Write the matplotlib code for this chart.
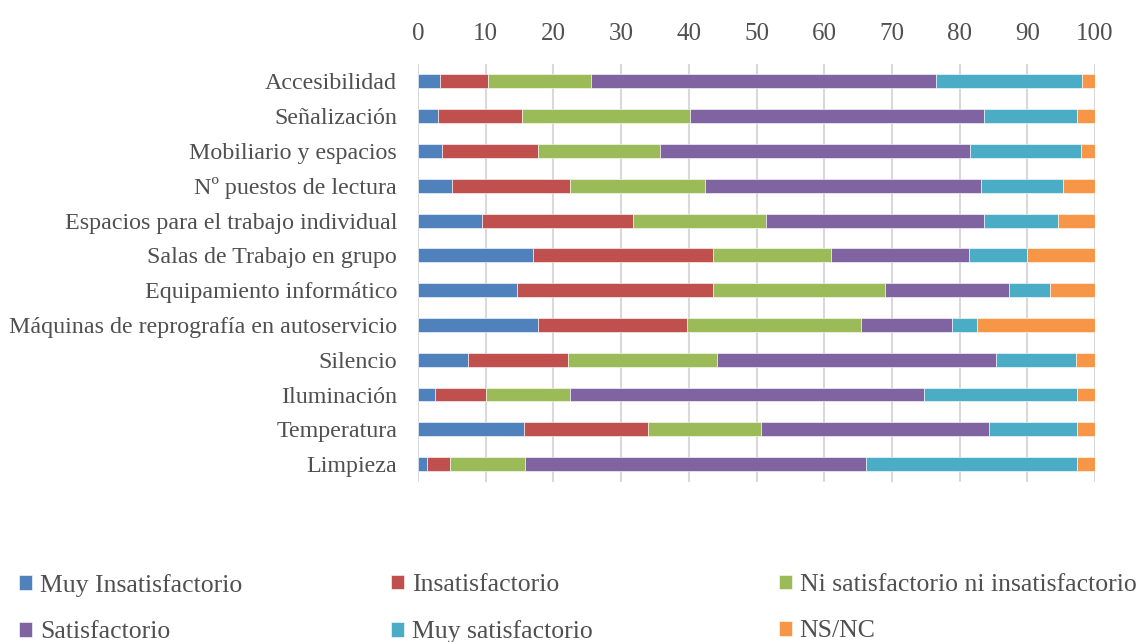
import matplotlib.pyplot as plt
import numpy as np

# categories (top to bottom)
categorias = ["Accesibilidad", "Señalización", "Mobiliario y espacios", "Nº puestos de lectura",
              "Espacios para el trabajo individual", "Salas de Trabajo en grupo",
              "Equipamiento informático", "Máquinas de reprografía en autoservicio",
              "Silencio", "Iluminación", "Temperatura", "Limpieza"]

series = ["Muy Insatisfactorio", "Insatisfactorio", "Ni satisfactorio ni insatisfactorio",
          "Satisfactorio", "Muy satisfactorio", "NS/NC"]

# percentage values per series
muy_insatisfactorio = [3.3, 3.0, 3.5, 5.0, 9.4, 17.0, 14.6, 17.7, 7.4, 2.5, 15.6, 1.4]
insatisfactorio = [7.1, 12.3, 14.2, 17.4, 22.3, 26.5, 28.9, 22.1, 14.7, 7.5, 18.3, 3.3]
ni_ni = [15.2, 24.9, 18.0, 20.0, 19.7, 17.5, 25.5, 25.6, 22.0, 12.4, 16.8, 11.1]
satisfactorio = [50.9, 43.4, 45.9, 40.7, 32.2, 20.4, 18.3, 13.4, 41.2, 52.3, 33.7, 50.4]
muy_satisfactorio = [21.6, 13.8, 16.3, 12.1, 10.9, 8.6, 6.0, 3.8, 11.9, 22.7, 13.0, 31.1]
ns_nc = [1.9, 2.6, 2.1, 4.8, 5.5, 10.0, 6.7, 17.4, 2.8, 2.6, 2.6, 2.7]

colores = ["#4F81BD", "#C0504D", "#9BBB59", "#8064A2", "#4BACC6", "#F79646"]
texto = "#505050"

plt.rcParams['font.family'] = ['Liberation Serif', 'DejaVu Serif']

fig = plt.figure(figsize=(11.44, 6.42), dpi=100)
ax = fig.add_axes([0.3654, 0.25, 0.5918, 0.6503])

datos = [muy_insatisfactorio, insatisfactorio, ni_ni, satisfactorio, muy_satisfactorio, ns_nc]
y = np.arange(len(categorias))
izq = np.zeros(len(categorias))
barras = []
for vals, col, nombre in zip(datos, colores, series):
    b = ax.barh(y, vals, left=izq, height=0.4, color=col, edgecolor="white", linewidth=0.4, label=nombre)
    barras.append(b)
    izq += np.array(vals)

ax.set_xlim(0, 100)
ax.set_ylim(len(categorias) - 0.5, -0.5)
ax.set_yticks(y)
ax.set_yticklabels(categorias, fontsize=17.3, color=texto)
ax.set_xticks(range(0, 101, 10))
ax.xaxis.tick_top()
ax.tick_params(axis="x", labelsize=18, colors=texto, length=0, pad=14)
ax.tick_params(axis="y", length=0, pad=15)
ax.grid(axis="x", color="#D9D9D9", linewidth=1.5)
ax.set_axisbelow(True)
for s in ax.spines.values():
    s.set_visible(False)

# legend as three columns
posiciones = [0.008, 0.333, 0.672]
for i, x in enumerate(posiciones):
    hs = [barras[i], barras[i + 3]]
    ls = [series[i], series[i + 3]]
    leg = fig.legend(hs, ls, loc="upper left", bbox_to_anchor=(x, 0.122), frameon=False,
                     fontsize=18.5, handlelength=0.5, handleheight=0.5, handletextpad=0.3,
                     labelspacing=0.95, borderaxespad=0)
    for t in leg.get_texts():
        t.set_color(texto)

fig.savefig("out.png", dpi=100)
